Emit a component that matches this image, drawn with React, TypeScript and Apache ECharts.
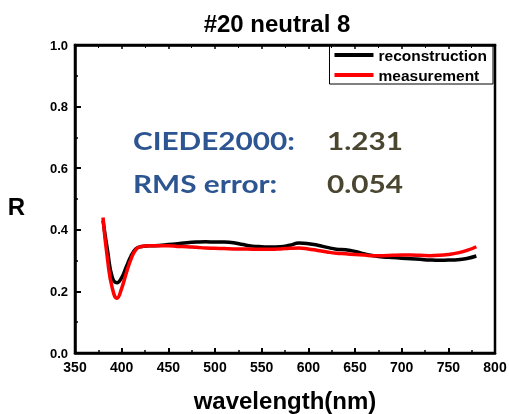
import React, { useEffect, useRef } from "react";
import * as echarts from "echarts";

const wavelengths = [380, 385, 390, 395, 400, 405, 410, 415, 420, 430, 440, 450, 460, 470, 480, 490, 500, 510, 520, 530, 540, 550, 560, 570, 580, 590, 600, 610, 620, 630, 640, 650, 660, 670, 680, 690, 700, 710, 720, 730, 740, 750, 760, 770, 780];
const reconstruction = [0.43, 0.33, 0.245, 0.228, 0.245, 0.28, 0.315, 0.338, 0.345, 0.348, 0.349, 0.352, 0.355, 0.358, 0.36, 0.361, 0.36, 0.36, 0.358, 0.352, 0.347, 0.345, 0.344, 0.345, 0.35, 0.357, 0.355, 0.35, 0.343, 0.337, 0.335, 0.33, 0.322, 0.316, 0.312, 0.31, 0.308, 0.306, 0.304, 0.302, 0.301, 0.302, 0.303, 0.307, 0.315];
const measurement = [0.44, 0.3, 0.21, 0.178, 0.21, 0.26, 0.305, 0.335, 0.345, 0.348, 0.348, 0.348, 0.346, 0.345, 0.343, 0.341, 0.34, 0.339, 0.338, 0.338, 0.337, 0.337, 0.337, 0.338, 0.34, 0.341, 0.338, 0.333, 0.328, 0.324, 0.322, 0.32, 0.318, 0.316, 0.316, 0.317, 0.318, 0.318, 0.317, 0.316, 0.317, 0.32, 0.325, 0.333, 0.345];
const metricLabels = ["CIEDE2000:", "RMS error:"];
const metricValues = ["1.231", "0.054"];
const yAxisTitle = "R";

export default function App() {
  const ref = useRef<HTMLDivElement>(null);
  useEffect(() => {
    if (!ref.current) return;
    const chart = echarts.init(ref.current, null, { renderer: "svg" });
    const bold = { fontFamily: "Liberation Sans, Arial, sans-serif", fontWeight: "bold" as const, color: "#000" };
    const metricFont = "bold 25px Lato, 'Open Sans', sans-serif";
    chart.setOption({
      animation: false,
      title: {
        text: "#20 neutral 8",
        left: 272,
        textAlign: "center",
        top: 6,
        textStyle: { ...bold, fontSize: 24 },
      },
      legend: {
        orient: "vertical",
        right: 16,
        top: 45,
        borderColor: "#000",
        borderWidth: 1,
        padding: [2, 6, 1, 5],
        itemGap: 4,
        itemWidth: 39,
        itemHeight: 4,
        icon: "rect",
        borderRadius: 0,
        textStyle: { ...bold, fontSize: 15.5, lineHeight: 16 },
        data: ["reconstruction", "measurement"],
      },
      grid: {
        left: 75,
        right: 14,
        top: 45,
        bottom: 61,
        containLabel: false,
        outerBoundsMode: "none",
        show: true,
        borderColor: "#000",
        borderWidth: 2.5,
      },
      xAxis: [
        {
          type: "value",
          min: 350,
          max: 800,
          interval: 50,
          name: "wavelength(nm)",
          nameLocation: "middle",
          nameGap: 35,
          nameTextStyle: { ...bold, fontSize: 24 },
          axisLine: { lineStyle: { color: "#000", width: 2.5 } },
          axisTick: { show: true, inside: true, length: 5, lineStyle: { color: "#000", width: 2 } },
          minorTick: { show: true, splitNumber: 2, length: 3, lineStyle: { color: "#000", width: 1.5 } },
          axisLabel: { ...bold, fontSize: 14, margin: 7 },
          splitLine: { show: false },
        },
        {
          type: "value",
          position: "top",
          min: 350,
          max: 800,
          interval: 50,
          axisLine: { lineStyle: { color: "#000", width: 2.5 } },
          axisTick: { show: true, inside: true, length: 4, lineStyle: { color: "#000", width: 1.5 } },
          minorTick: { show: true, splitNumber: 2, length: 3, lineStyle: { color: "#000", width: 1 } },
          axisLabel: { show: false },
          splitLine: { show: false },
        },
      ],
      yAxis: {
        type: "value",
        min: 0,
        max: 1,
        interval: 0.2,
        axisLine: { show: true, lineStyle: { color: "#000", width: 2.5 } },
        axisTick: { show: true, inside: true, length: 6, lineStyle: { color: "#000", width: 2 } },
        minorTick: { show: true, splitNumber: 2, length: 3, lineStyle: { color: "#000", width: 1.5 } },
        axisLabel: { ...bold, fontSize: 13, margin: 7, formatter: (v: number) => v.toFixed(1) },
        splitLine: { show: false },
      },
      graphic: [
        {
          type: "text",
          x: 16.5,
          y: 206,
          style: {
            text: yAxisTitle,
            x: 0,
            y: 0,
            align: "center",
            verticalAlign: "middle",
            fill: "#000",
            font: "bold 24px 'Liberation Sans', Arial, sans-serif",
          },
        },
        ...metricLabels.map((t, i) => ({
          type: "text",
          x: 133,
          y: 140 + i * 43,
          scaleX: 1.19,
          style: { text: t, x: 0, y: 0, verticalAlign: "middle", fill: "#2C5591", font: metricFont },
        })),
        ...metricValues.map((t, i) => ({
          type: "text",
          x: 327,
          y: 140 + i * 43,
          scaleX: 1.19,
          style: { text: t, x: 0, y: 0, verticalAlign: "middle", fill: "#4B4630", font: metricFont },
        })),
      ],
      series: [
        {
          name: "reconstruction",
          type: "line",
          xAxisIndex: 0,
          showSymbol: false,
          smooth: true,
          lineStyle: { color: "#000", width: 3.5 },
          itemStyle: { color: "#000" },
          data: wavelengths.map((w, i) => [w, reconstruction[i]]),
        },
        {
          name: "measurement",
          type: "line",
          xAxisIndex: 0,
          showSymbol: false,
          smooth: true,
          lineStyle: { color: "#FF0000", width: 3.5 },
          itemStyle: { color: "#FF0000" },
          data: wavelengths.map((w, i) => [w, measurement[i]]),
        },
      ],
    });
    return () => chart.dispose();
  }, []);
  return <div ref={ref} style={{ position: "fixed", left: 0, top: 0, width: 509, height: 414 }} />;
}
